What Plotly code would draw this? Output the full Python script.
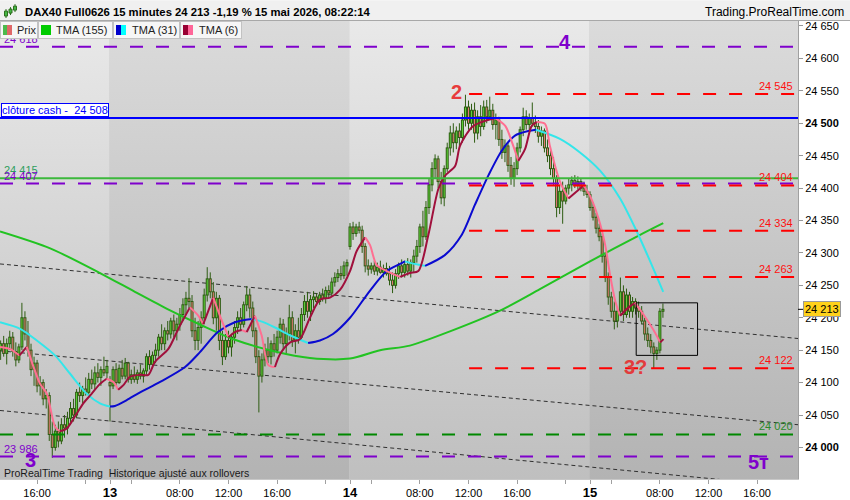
import plotly.graph_objects as go

# ---------------- data ----------------
bar_index = list(range(-36, 183))   # 15-min bars; 0 = 13 mai 02:15, 79 = 14 mai, 158 = 15 mai

opens = [
    24150, 24160, 24145, 24160, 24170, 24148, 24135, 24155, 24200, 24175,
    24150, 24120, 24130, 24095, 24100, 24075, 24080, 24020, 24000, 24025,
    24010, 24035, 24030, 24045, 24060, 24050, 24085, 24080, 24090, 24085,
    24105, 24098, 24115, 24108, 24120, 24115, 24100, 24095, 24120, 24100,
    24122, 24110, 24130, 24105, 24112, 24105, 24115, 24110, 24118, 24140,
    24128, 24142, 24150, 24170, 24160, 24180, 24175, 24195, 24180, 24190,
    24205, 24220, 24230, 24225, 24180, 24165, 24185, 24200, 24235, 24260,
    24240, 24200, 24230, 24165, 24140, 24165, 24155, 24170, 24185, 24200,
    24190, 24220, 24235, 24215, 24180, 24140, 24110, 24135, 24150, 24140,
    24160, 24150, 24170, 24190, 24160, 24175, 24200, 24165, 24180, 24170,
    24205, 24225, 24210, 24228, 24232, 24225, 24235, 24230, 24242, 24238,
    24255, 24262, 24268, 24265, 24280, 24310, 24340, 24330, 24340, 24335,
    24310, 24280, 24275, 24280, 24272, 24278, 24270, 24276, 24268, 24258,
    24250, 24268, 24280, 24270, 24282, 24272, 24285, 24295, 24310, 24340,
    24325, 24370, 24405, 24430, 24445, 24410, 24385, 24430, 24462, 24485,
    24470, 24488, 24478, 24505, 24525, 24500, 24520, 24485, 24510, 24495,
    24525, 24510, 24520, 24498, 24505, 24475, 24455, 24465, 24435, 24415,
    24430, 24462, 24490, 24510, 24498, 24508, 24500, 24495, 24480, 24488,
    24462, 24450, 24430, 24415, 24370, 24395, 24380, 24400, 24405, 24412,
    24405, 24410, 24400, 24395, 24390, 24370, 24355, 24338, 24325, 24295,
    24262, 24232, 24210, 24195, 24210, 24240, 24205, 24235, 24210, 24225,
    24215, 24210, 24195, 24175, 24165, 24155, 24145, 24150, 24210,
]
highs = [
    24165, 24172, 24168, 24180, 24178, 24162, 24160, 24223, 24210, 24195,
    24160, 24140, 24135, 24110, 24105, 24090, 24085, 24040, 24035, 24040,
    24045, 24050, 24055, 24070, 24075, 24090, 24100, 24095, 24108, 24115,
    24120, 24125, 24130, 24125, 24140, 24135, 24110, 24125, 24130, 24128,
    24135, 24138, 24132, 24120, 24125, 24120, 24128, 24122, 24145, 24150,
    24148, 24160, 24175, 24190, 24185, 24195, 24200, 24205, 24200, 24215,
    24230, 24240, 24261, 24235, 24200, 24195, 24210, 24245, 24278, 24270,
    24255, 24240, 24235, 24180, 24175, 24180, 24175, 24195, 24210, 24215,
    24225, 24249, 24245, 24225, 24185, 24150, 24145, 24160, 24170, 24165,
    24175, 24180, 24200, 24198, 24185, 24220, 24210, 24190, 24200, 24215,
    24235, 24240, 24235, 24241, 24238, 24240, 24245, 24248, 24250, 24262,
    24270, 24275, 24280, 24287, 24290, 24346, 24348, 24345, 24348, 24342,
    24315, 24290, 24285, 24288, 24285, 24288, 24282, 24285, 24280, 24270,
    24275, 24285, 24290, 24288, 24292, 24290, 24305, 24320, 24345, 24365,
    24380, 24415, 24440, 24452, 24450, 24425, 24435, 24470, 24496, 24500,
    24495, 24500, 24515, 24544, 24535, 24530, 24532, 24520, 24528, 24535,
    24536, 24541, 24530, 24515, 24510, 24490, 24475, 24470, 24448, 24440,
    24470, 24495, 24524, 24520, 24515, 24532, 24512, 24505, 24495, 24492,
    24475, 24458, 24448, 24420, 24405, 24410, 24405, 24415, 24418, 24420,
    24418, 24415, 24410, 24405, 24395, 24378, 24362, 24345, 24330, 24300,
    24270, 24240, 24225, 24215, 24262, 24250, 24245, 24240, 24232, 24230,
    24225, 24218, 24200, 24185, 24175, 24162, 24155, 24215, 24222,
]
lows = [
    24135, 24140, 24128, 24150, 24140, 24125, 24130, 24150, 24165, 24140,
    24110, 24095, 24085, 24080, 24065, 24060, 24010, 23984, 23995, 24000,
    24005, 24015, 24020, 24035, 24040, 24045, 24070, 24068, 24080, 24080,
    24090, 24090, 24100, 24095, 24110, 24105, 24040, 24090, 24095, 24098,
    24105, 24105, 24100, 24098, 24100, 24098, 24105, 24100, 24112, 24120,
    24122, 24130, 24140, 24150, 24150, 24165, 24168, 24170, 24165, 24180,
    24195, 24205, 24215, 24170, 24150, 24150, 24160, 24190, 24225, 24230,
    24190, 24180, 24150, 24127, 24135, 24145, 24140, 24160, 24175, 24180,
    24185, 24210, 24200, 24170, 24130, 24054, 24100, 24125, 24130, 24128,
    24140, 24145, 24160, 24150, 24145, 24165, 24155, 24145, 24160, 24165,
    24195, 24200, 24195, 24215, 24218, 24220, 24225, 24222, 24230, 24232,
    24248, 24255, 24258, 24260, 24265, 24305, 24320, 24325, 24330, 24300,
    24270, 24265, 24268, 24266, 24265, 24268, 24262, 24265, 24250, 24238,
    24245, 24260, 24262, 24262, 24265, 24262, 24270, 24285, 24300, 24310,
    24320, 24360, 24395, 24415, 24400, 24375, 24372, 24425, 24450, 24455,
    24460, 24465, 24470, 24495, 24490, 24490, 24470, 24475, 24480, 24490,
    24500, 24505, 24490, 24475, 24465, 24445, 24440, 24425, 24405, 24402,
    24420, 24455, 24480, 24490, 24488, 24495, 24485, 24470, 24465, 24455,
    24440, 24420, 24405, 24355, 24360, 24345, 24375, 24390, 24395, 24400,
    24398, 24395, 24388, 24385, 24365, 24350, 24330, 24318, 24285, 24255,
    24220, 24200, 24182, 24185, 24205, 24195, 24200, 24200, 24200, 24205,
    24200, 24190, 24165, 24155, 24145, 24122, 24135, 24145, 24200,
]
closes = [
    24160, 24145, 24160, 24170, 24148, 24135, 24155, 24200, 24175, 24150,
    24120, 24130, 24095, 24100, 24075, 24080, 24020, 24000, 24025, 24010,
    24035, 24030, 24045, 24060, 24050, 24085, 24080, 24090, 24085, 24105,
    24098, 24115, 24108, 24120, 24115, 24125, 24095, 24120, 24100, 24122,
    24110, 24130, 24105, 24112, 24105, 24115, 24110, 24118, 24140, 24128,
    24142, 24150, 24170, 24160, 24180, 24175, 24195, 24180, 24190, 24205,
    24220, 24230, 24225, 24180, 24165, 24185, 24200, 24235, 24260, 24240,
    24200, 24230, 24165, 24140, 24165, 24155, 24170, 24185, 24200, 24190,
    24220, 24235, 24215, 24180, 24140, 24110, 24135, 24150, 24140, 24160,
    24150, 24170, 24190, 24160, 24175, 24200, 24165, 24180, 24170, 24205,
    24225, 24210, 24228, 24232, 24225, 24235, 24230, 24242, 24238, 24255,
    24262, 24268, 24265, 24280, 24285, 24340, 24330, 24340, 24335, 24310,
    24280, 24275, 24280, 24272, 24278, 24270, 24276, 24268, 24258, 24250,
    24268, 24280, 24270, 24282, 24272, 24285, 24295, 24310, 24340, 24325,
    24370, 24405, 24430, 24445, 24410, 24385, 24430, 24462, 24485, 24470,
    24488, 24478, 24505, 24525, 24500, 24520, 24485, 24510, 24495, 24525,
    24510, 24520, 24498, 24505, 24475, 24455, 24465, 24435, 24415, 24430,
    24462, 24490, 24510, 24498, 24508, 24500, 24495, 24480, 24488, 24462,
    24450, 24430, 24415, 24370, 24395, 24380, 24400, 24405, 24412, 24405,
    24410, 24400, 24395, 24390, 24370, 24355, 24338, 24325, 24295, 24262,
    24232, 24210, 24195, 24210, 24240, 24205, 24235, 24210, 24225, 24215,
    24210, 24195, 24175, 24165, 24155, 24145, 24150, 24210, 24213,
]

# moving averages (bar position, value)
tma155_x = [-36.2, -19.7, -3.3, 8.2, 19.1, 30.3, 41.1, 54.3, 65.8, 79, 88.9, 98.7,
            111.9, 128.4, 141.5, 158, 174.5, 182.1]
tma155_y = [24333, 24307, 24269, 24240, 24213, 24188, 24166, 24148, 24138, 24137, 24150, 24157,
            24179, 24211, 24244, 24287, 24328, 24346]

tma31_x = [-36.2, -29.6, -24.1, -18.1, -13.2, -7.7, -3.3, 0, 1.6, 5.5, 9.9, 16.5, 24.7, 29.6,
           35.5, 41.1, 46.6, 50.0, 54.3, 59.2, 65.2, 69.1, 73.4, 79, 85.6, 91.1, 95.5, 97.1,
           100.4, 103.7, 110.3, 115.8, 120.1, 124.6, 129, 133.3, 137.7, 140.2, 148.1, 154.7,
           161.3, 167.9, 173.4, 177.8, 182.1]
tma31_y = [24193, 24183, 24165, 24142, 24114, 24083, 24068, 24063, 24064, 24073, 24085, 24101,
           24124, 24147, 24178, 24193, 24198, 24194, 24185, 24173, 24161, 24165, 24175, 24200,
           24242, 24272, 24283, 24287, 24283, 24280, 24297, 24328, 24374, 24420, 24458, 24481,
           24488, 24490, 24476, 24455, 24427, 24384, 24333, 24287, 24240]

tma6_x = [-36.2, -33, -29.8, -27.4, -23, -20.8, -18.1, -16.5, -14.3, -11.5, -8.8, -6, -3.3, -1.1,
          1.1, 2.7, 4.4, 6.6, 9.9, 12.6, 14.8, 19.2, 22.5, 26.3, 29.1, 30.7, 34, 36.2, 39,
          41.1, 43.4, 45, 47.7, 49.9, 52.1, 54.3, 56, 59.3, 62.5, 65.8, 69.1, 72.4, 75.7, 79,
          81.2, 84, 85.6, 87.8, 91.1, 95.5, 98.7, 101.5, 104.8, 108.1, 110.3, 113.6, 115.2,
          119.1, 122.4, 126.8, 130.1, 132.3, 134.4, 136.6, 138.8, 140.5, 143.2, 144.8, 148.1,
          150.9, 155.9, 158, 160.8, 163, 164.6, 166.3, 167.9, 170.7, 172.8, 175.6, 178.9,
          181.1, 182.2]
tma6_y = [24155, 24152, 24142, 24155, 24098, 24083, 24032, 24025, 24029, 24048, 24068, 24083,
          24098, 24106, 24101, 24089, 24096, 24109, 24112, 24112, 24132, 24152, 24183, 24216,
          24203, 24190, 24231, 24203, 24170, 24178, 24181, 24178, 24203, 24173, 24127, 24124,
          24144, 24162, 24167, 24200, 24228, 24231, 24243, 24272, 24303, 24324, 24312, 24281,
          24272, 24263, 24269, 24272, 24328, 24399, 24419, 24434, 24465, 24494, 24502, 24508,
          24496, 24471, 24442, 24460, 24496, 24502, 24499, 24465, 24410, 24384, 24404, 24388,
          24353, 24312, 24266, 24226, 24203, 24216, 24223, 24205, 24181, 24162, 24167]

# horizontal levels
purple_levels = [24618, 24407, 23986]
red_levels = [24545, 24404, 24334, 24263, 24122]
green_dashed_level = 24020
cash_close_level = 24508
green_solid_level = 24415
red_levels_start = 118.2          # bar where the red levels begin (14 mai 12:00)

# dotted trend channel (start bar, end bar, start price, end price)
trend_bars = [-36.21, 226.46]
trend_upper = [24283, 24168]
trend_middle = [24149, 24035]
trend_lower = [24057, 23939]

box_bars = [173.2, 193.4]
box_prices = [24142, 24223]

last_price = 24213

x_tick_bars = [-24, -8, 0, 7, 23, 39, 55, 71, 79, 86, 102, 118, 134, 150, 158, 165, 181, 197, 213]
x_tick_text = ["16:00", "", "13", "", "08:00", "12:00", "16:00", "", "14", "", "08:00", "12:00",
               "16:00", "", "15", "", "08:00", "12:00", "16:00"]
y_tick_prices = [24000, 24050, 24100, 24150, 24200, 24250, 24300, 24350, 24400, 24450, 24500,
                 24550, 24600, 24650]
y_tick_text = ["24 000", "24 050", "24 100", "24 150", "24 200", "24 250", "24 300", "24 350",
               "24 400", "24 450", "24 500", "24 550", "24 600", "24 650"]
y_bold_ticks = ["24 000", "24 500"]
day_bounds = [-36.21, -0.2, 78.8, 157.8, 226.46]

# ---------------- figure ----------------
X0, X1 = -36.21, 226.46
Y0, Y1 = 23951.3, 24657.7
FONT = "Liberation Sans, Arial, sans-serif"
PURPLE = "#7f00cc"
RED = "#ff1010"
PPX = (Y1 - Y0) / 462.0        # price units per pixel


def PX(x):
    return x / 798.0


def PY(y):
    return (483.0 - y) / 462.0


fig = go.Figure()

# background day bands with vertical gradient
band_cols = [("#bfbfbf", "#e9e9e9"), ("#b3b3b3", "#dbdbdb")]
for k in range(len(day_bounds) - 1):
    a, b = day_bounds[k], day_bounds[k + 1]
    bottom, top = band_cols[k % 2]
    fig.add_trace(go.Scatter(
        x=[a, b, b, a, a], y=[Y0, Y0, Y1, Y1, Y0], mode="lines", fill="toself",
        line=dict(width=0), fillgradient=dict(type="vertical", colorscale=[[0, bottom], [1, top]]),
        hoverinfo="skip"))

# dotted trend channel
for tr in (trend_upper, trend_middle, trend_lower):
    fig.add_trace(go.Scatter(x=trend_bars, y=tr, mode="lines",
                             line=dict(color="#303030", width=1, dash="4px,3px"), hoverinfo="skip"))

# candles drawn as wick + outlined body
OUT = "#2e5c12"
wx, wy, ox, oy, ux, uy, dx, dy = [], [], [], [], [], [], [], []
for i, o, h, l, c in zip(bar_index, opens, highs, lows, closes):
    wx += [i, i, None]
    wy += [l, h, None]
    lo_b, hi_b = min(o, c), max(o, c)
    ox += [i, i, None]
    oy += [lo_b - 0.5 * PPX, hi_b + 0.5 * PPX, None]
    if hi_b - lo_b > PPX:
        if c >= o:
            ux += [i, i, None]
            uy += [lo_b + 0.5 * PPX, hi_b - 0.5 * PPX, None]
        else:
            dx += [i, i, None]
            dy += [lo_b + 0.5 * PPX, hi_b - 0.5 * PPX, None]
fig.add_trace(go.Scatter(x=wx, y=wy, mode="lines", line=dict(color=OUT, width=1), hoverinfo="skip"))
fig.add_trace(go.Scatter(x=ox, y=oy, mode="lines", line=dict(color=OUT, width=3), hoverinfo="skip"))
fig.add_trace(go.Scatter(x=ux, y=uy, mode="lines", line=dict(color="#5fd83a", width=1),
                         hoverinfo="skip"))
fig.add_trace(go.Scatter(x=dx, y=dy, mode="lines", line=dict(color="#ec7b7b", width=1),
                         hoverinfo="skip"))


def add_two_color(xs, ys, up_col, down_col, width=2):
    segs = []
    cur = None
    for k in range(1, len(xs)):
        flag = ys[k] >= ys[k - 1]
        if flag != cur:
            segs.append([flag, [xs[k - 1]], [ys[k - 1]]])
            cur = flag
        segs[-1][1].append(xs[k])
        segs[-1][2].append(ys[k])
    for flag, sx, sy in segs:
        fig.add_trace(go.Scatter(x=sx, y=sy, mode="lines",
                                 line=dict(color=up_col if flag else down_col, width=width,
                                           shape="spline", smoothing=0.8),
                                 hoverinfo="skip"))


fig.add_trace(go.Scatter(x=tma155_x, y=tma155_y, mode="lines",
                         line=dict(color="#22c322", width=2, shape="spline", smoothing=0.8),
                         hoverinfo="skip"))
add_two_color(tma31_x, tma31_y, "#0a0ad0", "#33e6ea")
add_two_color(tma6_x, tma6_y, "#a0103c", "#ff6f91")

shapes = []
# horizontal levels
for p in purple_levels:
    shapes.append(dict(type="line", xref="x", yref="y", x0=X0, x1=X1, y0=p, y1=p, layer="above",
                       line=dict(color=PURPLE, width=2, dash="13px,13px")))
for p in red_levels:
    shapes.append(dict(type="line", xref="x", yref="y", x0=red_levels_start, x1=X1, y0=p, y1=p,
                       layer="above", line=dict(color="#ff0000", width=2, dash="13px,13px")))
shapes.append(dict(type="line", xref="x", yref="y", x0=X0, x1=X1, y0=green_dashed_level,
                   y1=green_dashed_level, layer="above",
                   line=dict(color="#008800", width=2, dash="13px,13px")))
shapes.append(dict(type="line", xref="x", yref="y", x0=X0, x1=X1, y0=cash_close_level,
                   y1=cash_close_level, layer="above", line=dict(color="#0000ff", width=2)))
shapes.append(dict(type="line", xref="x", yref="y", x0=X0, x1=X1, y0=green_solid_level,
                   y1=green_solid_level, layer="above", line=dict(color="#3cb83c", width=2)))
# rectangle
shapes.append(dict(type="rect", xref="x", yref="y", x0=box_bars[0], x1=box_bars[1],
                   y0=box_prices[0], y1=box_prices[1], layer="above",
                   line=dict(color="#000000", width=1)))
# last price tick
shapes.append(dict(type="line", xref="paper", yref="y", x0=PX(798), x1=PX(803), y0=last_price,
                   y1=last_price, line=dict(color="#000000", width=1)))
# header bar
shapes.append(dict(type="rect", xref="paper", yref="paper", x0=PX(0), x1=PX(850), y0=PY(20.5),
                   y1=PY(0), fillcolor="#f0f0f0", line=dict(width=0), layer="above"))
shapes.append(dict(type="line", xref="paper", yref="paper", x0=PX(0), x1=PX(850), y0=PY(20.5),
                   y1=PY(20.5), line=dict(color="#a8a8a8", width=1), layer="above"))
# header icon: three tiny candles
for cx, wt, wb, bt, bb in ((6, 9, 18, 11, 16), (10.5, 7, 15, 9, 13), (15, 4, 12, 6, 10)):
    shapes.append(dict(type="line", xref="paper", yref="paper", x0=PX(cx), x1=PX(cx), y0=PY(wb),
                       y1=PY(wt), line=dict(color="#2e6e1e", width=1), layer="above"))
    shapes.append(dict(type="rect", xref="paper", yref="paper", x0=PX(cx - 1.5), x1=PX(cx + 1.5),
                       y0=PY(bb), y1=PY(bt), fillcolor="#44b844",
                       line=dict(color="#2e6e1e", width=1), layer="above"))

ann = []


def box(x0, x1, y0, y1, fill, border=None):
    d = dict(xref="paper", yref="paper", x=PX(x0), y=PY(y0), xanchor="left", yanchor="top",
             text=" ", showarrow=False, bgcolor=fill, borderpad=0, font=dict(size=4))
    if border:
        d.update(width=x1 - x0 - 2, height=y1 - y0 - 2, bordercolor=border, borderwidth=1)
    else:
        d.update(width=x1 - x0, height=y1 - y0, borderwidth=0)
    ann.append(d)


def txt(x, y, s, color="#000", size=11, xanchor="left", bold=False, xref="paper", yref="paper",
        yanchor="middle", yshift=0, xshift=0):
    if bold:
        s = "<b>" + s + "</b>"
    ann.append(dict(xref=xref, yref=yref, x=x, y=y, text=s, showarrow=False, xanchor=xanchor,
                    yanchor=yanchor, yshift=yshift, xshift=xshift,
                    font=dict(family=FONT, size=size, color=color)))


# left level labels (before legend so the legend covers the top one)
txt(X0, purple_levels[0], "24 618", PURPLE, xref="x", yref="y", yanchor="bottom", xshift=2)
txt(X0, green_solid_level, "24 415", "#2e9e5e", xref="x", yref="y", yanchor="bottom", xshift=2)
txt(X0, purple_levels[1], "24 407", PURPLE, xref="x", yref="y", yanchor="bottom", xshift=2)
txt(X0, purple_levels[2], "23 986", PURPLE, xref="x", yref="y", yanchor="bottom", xshift=2)

# right level labels
for p in red_levels:
    txt(225.6, p, f"{p // 1000} {p % 1000:03d}", RED, xref="x", yref="y", xanchor="right",
        yanchor="bottom")
txt(225.6, green_dashed_level, "24 020", "#2a8a2a", xref="x", yref="y", xanchor="right",
    yanchor="bottom")

# legend boxes
box(0, 37.5, 21.5, 39.5, "#f6f6f6", "#c2c2c2")
box(37.5, 112.7, 21.5, 39.5, "#f6f6f6", "#c2c2c2")
box(112.7, 180.2, 21.5, 39.5, "#f6f6f6", "#c2c2c2")
box(180.2, 242.5, 21.5, 39.5, "#f6f6f6", "#c2c2c2")
box(2.7, 7.3, 25, 35, "#4cba4c")
box(7.3, 12, 25, 35, "#e06868")
box(41, 50.7, 25, 35, "#00cc00")
box(116, 120.7, 25, 35, "#0000cc")
box(120.7, 126, 25, 35, "#00ffff")
box(183.3, 188.3, 25, 35, "#990033")
box(188.3, 193.3, 25, 35, "#ff6699")
txt(PX(14.5), PY(30.5), "Prix", "#222", 11)
txt(PX(53.5), PY(30.5), "TMA (155)", "#222", 11)
txt(PX(129.5), PY(30.5), "TMA (31)", "#222", 11)
txt(PX(197), PY(30.5), "TMA (6)", "#222", 11)

# header texts
txt(PX(23), PY(12), "DAX40 Full0626 15 minutes 24 213 -1,19 % 15 mai 2026, 08:22:14", "#000", 11.3,
    bold=True)
txt(PX(846), PY(12.3), "Trading.ProRealTime.com", "#000", 12, xanchor="right")

# cash close label
ann.append(dict(xref="paper", yref="paper", x=PX(0.5), y=PY(103.5), xanchor="left", yanchor="top",
                text="clôture cash -\u00a0 24 508", showarrow=False, bgcolor="#ffffff",
                bordercolor="#0000ff", borderwidth=1, borderpad=0,
                font=dict(family=FONT, size=11, color="#0000ff")))

# big wave labels
txt(149.9, 24626, "4", PURPLE, 20, xanchor="center", bold=True, xref="x", yref="y")
txt(113.9, 24548, "2", "#e83c3c", 20, xanchor="center", bold=True, xref="x", yref="y")
txt(-26.3, 23980, "3", PURPLE, 20, xanchor="center", bold=True, xref="x", yref="y")
txt(213.3, 23978, "5т", PURPLE, 20, xanchor="center", bold=True, xref="x", yref="y")
txt(173.1, 24124, "3?", "#e23c3c", 20, xanchor="center", bold=True, xref="x", yref="y")

# footer text
txt(PX(2), PY(476.5), "ProRealTime Trading\u00a0 Historique ajusté aux rollovers", "#1a1a1a", 10.5)

# last price label
ann.append(dict(xref="paper", yref="y", x=PX(803), y=last_price, xanchor="left", yanchor="middle",
                text="24 213", showarrow=False, bgcolor="#ffd21a", bordercolor="#9a9a9a",
                borderwidth=1, borderpad=1, font=dict(family=FONT, size=11, color="#000")))

x_text = [("<b><span style='font-size:13px'>" + t + "</span></b>") if t in ("13", "14", "15") else t
          for t in x_tick_text]
y_text = [("<b>" + t + "</b>") if t in y_bold_ticks else t for t in y_tick_text]

fig.update_layout(
    width=850, height=500, margin=dict(l=0, r=52, t=21, b=17),
    paper_bgcolor="#ffffff", plot_bgcolor="#d0d0d0", showlegend=False,
    font=dict(family=FONT, size=11, color="#000000"),
    shapes=shapes, annotations=ann,
    xaxis=dict(range=[X0, X1], tickmode="array", tickvals=x_tick_bars, ticktext=x_text,
               ticks="outside", ticklen=4, tickcolor="#a0a0a0", showgrid=False, zeroline=False,
               showline=True, linecolor="#c8c8c8", fixedrange=True,
               tickfont=dict(size=11, color="#000")),
    yaxis=dict(range=[Y0, Y1], side="right", tickmode="array", tickvals=y_tick_prices,
               ticktext=y_text, ticks="outside", ticklen=4, tickcolor="#999999", showgrid=False,
               zeroline=False, showline=True, linecolor="#a0a0a0", fixedrange=True,
               tickfont=dict(size=11, color="#000")),
)

fig.write_html("out.html", config={"displayModeBar": False, "staticPlot": True},
               post_script="document.body.style.margin='0';")
